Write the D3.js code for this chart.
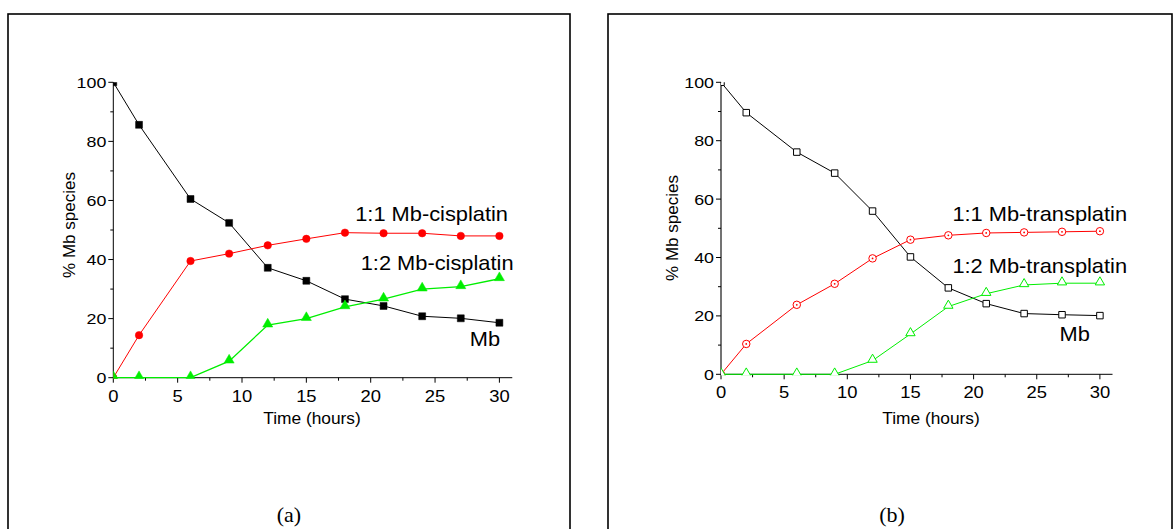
<!DOCTYPE html>
<html>
<head>
<meta charset="utf-8">
<script src="https://cdn.jsdelivr.net/npm/d3@7"></script>
<style>
  html, body { margin: 0; padding: 0; background: #fff; }
  svg { display: block; }
  text { font-family: "Liberation Sans", Arial, sans-serif; fill: #000; }
</style>
</head>
<body>
<div id="chart"></div>
<script>
// time points (hours), shared by every series
const hours = [0, 2, 6, 9, 12, 15, 18, 21, 24, 27, 30];

// panel (a): cisplatin
const mbCis = [100, 85.6, 60.5, 52.4, 37.2, 32.8, 26.6, 24.3, 20.8, 20.1, 18.6];
const mono11Cis = [0, 14.4, 39.5, 42.0, 44.8, 47.0, 49.1, 48.9, 48.9, 48.0, 48.0];
const bis12Cis = [0, 0, 0, 5.6, 17.8, 20.0, 24.0, 26.6, 30.0, 30.8, 33.5];

// panel (b): transplatin
const mbTrans = [100, 89.6, 76.1, 68.9, 55.9, 40.2, 29.6, 24.2, 20.8, 20.4, 20.1];
const mono11Trans = [0, 10.4, 23.8, 31.0, 39.7, 46.1, 47.6, 48.4, 48.6, 48.8, 49.0];
const bis12Trans = [0, 0, 0, 0, 4.7, 13.8, 23.2, 27.6, 30.6, 31.2, 31.2];

const xTicks = [0, 5, 10, 15, 20, 25, 30];
const yTicks = [0, 20, 40, 60, 80, 100];

const W = 1173, H = 529;
const svg = d3.select('#chart').append('svg')
  .attr('width', W)
  .attr('height', H);

// stretched text helper (the source figure is a bit wider than tall)
function label(g, x, y, str, size, anchor, sx) {
  return g.append('text')
    .attr('transform', 'translate(' + x + ',' + y + ') scale(' + (sx || 1) + ',1)')
    .attr('text-anchor', anchor || 'start')
    .style('font-size', size + 'px')
    .text(str);
}

const panels = [
  {
    id: 'a', box: [8, 14, 570, 540], tag: '(a)', tagX: 289,
    x0: 113.3, pxPerHour: 12.87, yTop: 82.3, yBottom: 377.7,
    filled: true, axisColor: '#000',
    series: [
      { values: mbCis, color: '#000', shape: 'square' },
      { values: mono11Cis, color: '#ff0000', shape: 'circle' },
      { values: bis12Cis, color: '#00ee00', shape: 'triangle' }
    ],
    notes: [
      { text: '1:1 Mb-cisplatin', x: 30.67, y: 53.1 },
      { text: '1:2 Mb-cisplatin', x: 31.1, y: 36.5 },
      { text: 'Mb', x: 30.05, y: 10.7 }
    ],
    titleX: 312, ytitleX: 75, ytitleY: 225
  },
  {
    id: 'b', box: [608, 14, 1172, 540], tag: '(b)', tagX: 892,
    x0: 721, pxPerHour: 12.63, yTop: 82.3, yBottom: 374.3,
    filled: false, axisColor: '#444',
    series: [
      { values: mbTrans, color: '#000', shape: 'square' },
      { values: mono11Trans, color: '#ff0000', shape: 'circle' },
      { values: bis12Trans, color: '#00ee00', shape: 'triangle' }
    ],
    notes: [
      { text: '1:1 Mb-transplatin', x: 32.15, y: 52.6 },
      { text: '1:2 Mb-transplatin', x: 32.15, y: 34.7 },
      { text: 'Mb', x: 29.2, y: 11.5 }
    ],
    titleX: 931, ytitleX: 678, ytitleY: 228
  }
];

panels.forEach(p => {
  const g = svg.append('g');

  // frame round the panel
  g.append('rect')
    .attr('x', p.box[0]).attr('y', p.box[1])
    .attr('width', p.box[2] - p.box[0]).attr('height', p.box[3] - p.box[1])
    .attr('fill', 'none').attr('stroke', '#000').attr('stroke-width', 1.6);

  const x = d3.scaleLinear().domain([0, 31]).range([p.x0, p.x0 + 31 * p.pxPerHour]);
  const y = d3.scaleLinear().domain([0, 100]).range([p.yBottom, p.yTop]);

  // markers are clipped to the plot area, as in the source plot
  svg.append('defs').append('clipPath').attr('id', 'clip-' + p.id)
    .append('rect')
    .attr('x', x(0)).attr('y', y(100))
    .attr('width', x(31) - x(0)).attr('height', y(0) - y(100) + 1);

  // minor ticks
  const xMinor = d3.range(0, 31, 2.5).filter(v => v % 5 !== 0);
  const yMinor = d3.range(10, 100, 20);

  const xAxis = g.append('g')
    .attr('transform', 'translate(0,' + p.yBottom + ')');
  xAxis.append('line')
    .attr('x1', x(0)).attr('x2', x(31))
    .attr('stroke', '#000').attr('stroke-width', 1);
  xAxis.selectAll('.maj').data(xTicks).enter().append('line')
    .attr('x1', d => x(d)).attr('x2', d => x(d))
    .attr('y1', 0).attr('y2', 5)
    .attr('stroke', '#000');
  xAxis.selectAll('.min').data(xMinor).enter().append('line')
    .attr('x1', d => x(d)).attr('x2', d => x(d))
    .attr('y1', 0).attr('y2', 3)
    .attr('stroke', '#000');
  xTicks.forEach(t => label(xAxis, x(t), 24, String(t), 16, 'middle', 1.15));

  const yAxis = g.append('g')
    .attr('transform', 'translate(' + p.x0 + ',0)');
  yAxis.append('line')
    .attr('y1', y(0)).attr('y2', y(100))
    .attr('stroke', p.axisColor).attr('stroke-width', p.filled ? 1 : 1.5);
  yAxis.selectAll('.maj').data(yTicks).enter().append('line')
    .attr('y1', d => y(d)).attr('y2', d => y(d))
    .attr('x1', -5).attr('x2', 0)
    .attr('stroke', '#000');
  yAxis.selectAll('.min').data(yMinor).enter().append('line')
    .attr('y1', d => y(d)).attr('y2', d => y(d))
    .attr('x1', -3).attr('x2', 0)
    .attr('stroke', '#000');
  yTicks.forEach(t => label(yAxis, -7, y(t) + 5.5, String(t), 15.5, 'end', 1.15));

  // axis titles
  label(g, p.titleX, 424, 'Time (hours)', 17, 'middle', 1.02);
  g.append('text')
    .attr('transform', 'translate(' + p.ytitleX + ',' + p.ytitleY + ') rotate(-90)')
    .attr('text-anchor', 'middle')
    .style('font-size', '17px')
    .text('% Mb species');

  // series
  const plot = g.append('g').attr('clip-path', 'url(#clip-' + p.id + ')');
  const line = d3.line().x(d => x(d[0])).y(d => y(d[1]));
  p.series.forEach(s => {
    const pts = hours.map((h, i) => [h, s.values[i]]);
    plot.append('path')
      .datum(pts)
      .attr('d', line)
      .attr('fill', 'none')
      .attr('stroke', s.color)
      .attr('stroke-width', s.shape === 'triangle' && p.filled ? 1.3 : 1);

    const sym = s.shape === 'square' ? d3.symbolSquare
      : s.shape === 'circle' ? d3.symbolCircle : d3.symbolTriangle;
    const size = p.filled
      ? (s.shape === 'square' ? 48 : s.shape === 'circle' ? 44 : 44)
      : (s.shape === 'square' ? 42 : s.shape === 'circle' ? 44 : 38);

    plot.selectAll(null).data(pts).enter().append('path')
      .attr('transform', d => 'translate(' + x(d[0]) + ',' + (y(d[1]) - (s.shape === 'triangle' ? 1 : 0)) + ')')
      .attr('d', d3.symbol().type(sym).size(size))
      .attr('fill', p.filled ? s.color : '#fff')
      .attr('stroke', s.color)
      .attr('stroke-width', p.filled ? 0.5 : 1);

    if (!p.filled && s.shape === 'circle') {
      plot.selectAll(null).data(pts).enter().append('circle')
        .attr('cx', d => x(d[0])).attr('cy', d => y(d[1]))
        .attr('r', 0.9)
        .attr('fill', s.color);
    }
  });

  // annotations
  p.notes.forEach(n => label(g, x(n.x), y(n.y), n.text, 21, 'end', 1.04));

  // panel tag
  g.append('text')
    .attr('x', p.tagX).attr('y', 522)
    .attr('text-anchor', 'middle')
    .style('font-family', '"Liberation Serif", "Times New Roman", serif')
    .style('font-size', '22px')
    .text(p.tag);
});
</script>
</body>
</html>
